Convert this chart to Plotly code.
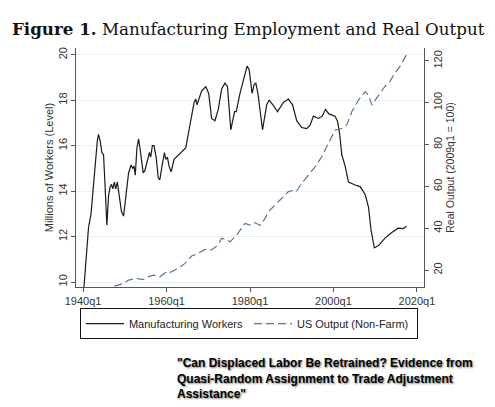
import plotly.graph_objects as go

# Manufacturing employment, millions
emp_year = [1940.2, 1940.8, 1941.3, 1941.9, 1942.7, 1943.4, 1943.7, 1944.1, 1944.5, 1944.9,
            1945.2, 1945.7, 1946.1, 1946.5, 1946.8, 1947.1, 1947.5, 1947.8, 1948.2, 1948.6,
            1949.2, 1949.7, 1950.3, 1950.9, 1951.5, 1951.9, 1952.2, 1952.5, 1952.9, 1953.3,
            1953.7, 1954.4, 1954.8, 1955.6, 1955.9, 1956.2, 1956.6, 1957.0, 1957.5, 1958.0,
            1958.4, 1959.0, 1959.5, 1959.8, 1960.2, 1960.6, 1961.1, 1961.8, 1962.4, 1963.6,
            1964.6, 1965.6, 1966.6, 1967.0, 1967.3, 1968.4, 1969.4, 1970.1, 1970.8, 1971.6,
            1972.4, 1973.2, 1974.0, 1974.6, 1975.0, 1975.4, 1976.3, 1976.7, 1977.6, 1978.6,
            1979.3, 1979.8, 1980.2, 1980.5, 1981.0, 1981.4, 1981.9, 1982.5, 1983.0, 1984.0,
            1984.6, 1985.5, 1986.6, 1988.0, 1989.2, 1990.2, 1991.2, 1992.4, 1993.6, 1994.4,
            1995.2, 1996.4, 1997.3, 1998.1, 1998.9, 2000.4, 2001.0, 2001.5, 2002.0, 2002.8,
            2003.6, 2005.2, 2006.4, 2007.6, 2008.4, 2009.0, 2009.8, 2010.8, 2012.3, 2013.9,
            2015.5, 2016.7, 2017.5]
emp_val = [9.75, 11.0, 12.4, 13.0, 14.8, 16.2, 16.5, 16.2, 15.7, 15.6,
           14.5, 12.5, 13.8, 14.2, 14.3, 14.1, 14.4, 14.1, 14.4, 13.8,
           13.1, 12.9, 13.9, 14.8, 15.15, 15.0, 15.1, 14.7, 15.9, 16.3,
           15.8, 14.8, 14.9, 15.5, 15.7, 15.5, 16.0, 16.0, 15.5, 14.6,
           14.5, 15.2, 15.7, 15.4, 15.5, 15.1, 14.85, 15.4, 15.5, 15.7,
           15.9, 16.9, 17.9, 18.05, 17.8, 18.4, 18.6, 18.3, 17.2, 17.1,
           17.6, 18.5, 18.75, 18.6, 17.6, 16.7, 17.5, 17.5, 18.3, 19.0,
           19.5, 19.35, 18.7, 18.3, 18.7, 18.75, 18.3, 17.3, 16.7, 17.8,
           18.0, 17.8, 17.5, 17.9, 18.05, 17.8, 17.1, 16.8, 16.75, 16.9,
           17.3, 17.2, 17.3, 17.6, 17.4, 17.3, 17.06, 16.5, 15.6, 15.1,
           14.4, 14.27, 14.2, 13.85, 13.3, 12.3, 11.5, 11.6, 11.92, 12.17,
           12.37, 12.35, 12.45]

# Real non-farm output index, 2009q1 = 100
out_year = [1947.5, 1948.5, 1949.7, 1950.9, 1952.8, 1954.3, 1955.3, 1956.8, 1958.4, 1960.0,
            1960.8, 1962.8, 1964.4, 1966.0, 1967.6, 1969.2, 1970.8, 1972.3, 1973.2, 1974.4,
            1975.2, 1976.8, 1978.8, 1980.0, 1981.2, 1982.4, 1983.6, 1984.4, 1986.0, 1987.6,
            1989.2, 1990.8, 1991.2, 1992.4, 1994.0, 1995.6, 1997.2, 1998.8, 2000.4, 2001.5,
            2002.0, 2003.2, 2004.4, 2006.0, 2007.6, 2008.4, 2009.2, 2010.0, 2011.1, 2012.3,
            2013.5, 2014.7, 2015.9, 2017.1, 2017.5]
out_val = [12.3, 12.8, 13.6, 15.2, 16.0, 15.4, 16.6, 17.6, 16.8, 19.2,
           18.8, 20.8, 23.2, 26.7, 28.0, 29.9, 29.6, 32.0, 35.2, 34.5,
           33.5, 36.7, 42.3, 41.5, 42.7, 41.3, 44.7, 47.9, 51.1, 54.3,
           57.5, 58.3, 57.8, 61.5, 65.5, 69.4, 74.2, 80.6, 87.0, 87.4,
           87.8, 89.4, 95.7, 101.3, 105.3, 103.7, 98.9, 101.3, 104.5, 107.7,
           110.1, 114.1, 117.3, 121.3, 122.9]

x_ticks = [1940, 1960, 1980, 2000, 2020]
x_labels = ["1940q1", "1960q1", "1980q1", "2000q1", "2020q1"]
left_ticks = [10, 12, 14, 16, 18, 20]
right_ticks = [20, 40, 60, 80, 100, 120]

fig = go.Figure()
fig.add_trace(go.Scatter(
    x=emp_year, y=emp_val, mode='lines', name='Manufacturing Workers',
    line=dict(color='#1a1a1a', width=1.2)
))
fig.add_trace(go.Scatter(
    x=out_year, y=out_val, mode='lines', name='US Output (Non-Farm)',
    line=dict(color='#56769a', width=1.2, dash='8px,4px'), yaxis='y2'
))

axis_font = dict(family='Liberation Sans, Arial', size=11, color='#333')

# page body has an 8px margin, so the figure is drawn 8px smaller than the window
fig.update_layout(
    width=487, height=399, autosize=False,
    margin=dict(l=68, r=71, t=40, b=120),
    paper_bgcolor='white', plot_bgcolor='white',
    font=dict(family='Liberation Sans, Arial', size=11, color='#222'),
    xaxis=dict(
        range=[1938.3, 2021.7], tickvals=x_ticks, ticktext=x_labels,
        showgrid=False, zeroline=False, showline=True, linecolor='#555', linewidth=1,
        ticks='outside', ticklen=4, tickcolor='#555', tickfont=axis_font
    ),
    yaxis=dict(
        range=[9.78, 20.3], tickvals=left_ticks, tickangle=-90,
        showgrid=True, gridcolor='#edf1f4', gridwidth=1, zeroline=False,
        showline=True, linecolor='#555', linewidth=1,
        ticks='outside', ticklen=4, tickcolor='#555', tickfont=axis_font,
        title=dict(text='Millions of Workers (Level)', font=dict(size=11, color='#333'), standoff=0)
    ),
    yaxis2=dict(
        range=[11.9, 126.2], tickvals=right_ticks, tickangle=-90,
        overlaying='y', side='right', showgrid=False, zeroline=False,
        showline=True, linecolor='#555', linewidth=1,
        ticks='outside', ticklen=4, tickcolor='#555', tickfont=axis_font,
        title=dict(text='Real Output (2009q1 = 100)', font=dict(size=10.5, color='#333'), standoff=0)
    ),
    legend=dict(
        orientation='h', x=0.497, xanchor='center', y=-0.088, yanchor='top',
        bordercolor='#111', borderwidth=1, bgcolor='white',
        font=dict(size=11, color='#222'), itemwidth=38,
        entrywidth=115, entrywidthmode='pixels'
    ),
    showlegend=True
)

fig.add_annotation(
    text='<b>Figure 1.</b> Manufacturing Employment and Real Output',
    xref='paper', yref='paper', x=-0.19, y=1.078, xanchor='left', yanchor='middle',
    showarrow=False, font=dict(family='DejaVu Serif, serif', size=16.7, color='#111')
)

fig.add_annotation(
    text='<b>"Can Displaced Labor Be Retrained? Evidence from<br>'
         'Quasi-Random Assignment to Trade Adjustment<br>Assistance"</b>',
    xref='paper', yref='paper', x=0.285, y=-0.28, xanchor='left', yanchor='top',
    align='left', showarrow=False,
    font=dict(family='Liberation Sans, Arial', size=12, color='#000',
              shadow='1px 1px 2px #777')
)

fig.write_html("out.html")
